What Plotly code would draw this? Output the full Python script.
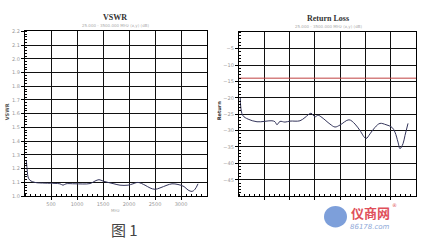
import plotly.graph_objects as go

W, H = 434, 246

# VSWR data
vswr_f = [25, 45, 58, 96, 192, 385, 577, 673, 731, 788, 962, 1250, 1346, 1423, 1500, 1596, 1711, 1827, 1980, 2077, 2173, 2308, 2404, 2500, 2596, 2731, 2827, 2942, 3058, 3135, 3212, 3269, 3327]
vswr_v = [1.26, 1.18, 1.14, 1.115, 1.10, 1.095, 1.093, 1.09, 1.08, 1.09, 1.09, 1.092, 1.11, 1.12, 1.11, 1.10, 1.09, 1.08, 1.08, 1.09, 1.10, 1.08, 1.06, 1.05, 1.06, 1.08, 1.09, 1.085, 1.07, 1.045, 1.035, 1.05, 1.09]

# Return loss data
rl_f = [25, 45, 80, 180, 356, 652, 711, 751, 810, 909, 1008, 1206, 1305, 1423, 1502, 1562, 1641, 1799, 1898, 1997, 2175, 2294, 2393, 2511, 2590, 2689, 2788, 2907, 3025, 3085, 3144, 3183, 3243, 3282, 3342]
rl_v = [-20.0, -24.0, -25.5, -26.5, -27.3, -27.0, -27.3, -28.2, -27.2, -27.4, -27.1, -27.0, -26.0, -24.7, -25.8, -25.3, -26.0, -28.0, -28.9, -28.3, -26.7, -28.0, -30.0, -32.4, -31.0, -29.0, -27.8, -28.2, -29.0, -30.5, -33.5, -35.5, -34.0, -31.5, -27.8]
rl_limit = -14

vswr_ticks = [1.0, 1.1, 1.2, 1.3, 1.4, 1.5, 1.6, 1.7, 1.8, 1.9, 2.0, 2.1, 2.2]
rl_ticks = [-45, -40, -35, -30, -25, -20, -15, -10, -5]
x_ticks = [500, 1000, 1500, 2000, 2500, 3000]

fig = go.Figure()
fig.add_trace(go.Scatter(x=vswr_f, y=vswr_v, mode="lines", line=dict(color="#33345a", width=1, shape="spline"), xaxis="x", yaxis="y", showlegend=False))
fig.add_trace(go.Scatter(x=rl_f, y=rl_v, mode="lines", line=dict(color="#33345a", width=1, shape="spline"), xaxis="x2", yaxis="y2", showlegend=False))
fig.add_trace(go.Scatter(x=[0, 3500], y=[rl_limit, rl_limit], mode="lines", line=dict(color="#c04040", width=1), xaxis="x2", yaxis="y2", showlegend=False))

ax_common = dict(showline=True, linecolor="black", linewidth=1.3, mirror=True, showgrid=True,
                 gridcolor="#111", gridwidth=1.3, zeroline=False,
                 tickfont=dict(size=5, color="#999", family="DejaVu Sans"),
                 ticks="outside", ticklen=3, tickcolor="black")

fig.update_layout(
    width=W, height=H, margin=dict(l=0, r=0, t=0, b=0),
    paper_bgcolor="white", plot_bgcolor="white",
    xaxis=dict(domain=[25/W, 207/W], range=[0, 3500], tickvals=x_ticks, anchor="y",
               minor=dict(dtick=100, ticks="inside", ticklen=2, tickcolor="black", showgrid=False), **ax_common),
    yaxis=dict(domain=[1-198/H, 1-29/H], range=[1.0, 2.2], tickvals=vswr_ticks, tickformat=".1f", anchor="x",
               minor=dict(dtick=0.02, ticks="inside", ticklen=2, tickcolor="black", showgrid=False), **ax_common),
    xaxis2=dict(domain=[239/W, 416/W], range=[0, 3500], tickvals=x_ticks, showticklabels=False, anchor="y2",
                minor=dict(dtick=100, ticks="inside", ticklen=2, tickcolor="black", showgrid=False), **ax_common),
    yaxis2=dict(domain=[1-198/H, 1-30/H], range=[-50, 0], tickvals=rl_ticks, anchor="x2",
                minor=dict(dtick=1, ticks="inside", ticklen=2, tickcolor="black", showgrid=False), **ax_common),
)

ann = [
    dict(x=115/W, y=1-15/H, text="<b>VSWR</b>", font=dict(size=8, family="Liberation Serif", color="#333")),
    dict(x=115/W, y=1-23/H, text="25.000 - 3500.000 MHz (x,y) (dB)", font=dict(size=4, family="DejaVu Sans", color="#aaa")),
    dict(x=328/W, y=1-16/H, text="<b>Return Loss</b>", font=dict(size=8, family="Liberation Serif", color="#333")),
    dict(x=328/W, y=1-24/H, text="25.000 - 3500.000 MHz (x,y) (dB)", font=dict(size=4, family="DejaVu Sans", color="#aaa")),
    dict(x=7/W, y=1-112/H, text="<b>VSWR</b>", textangle=-90, font=dict(size=5, family="DejaVu Sans", color="#555")),
    dict(x=219/W, y=1-110/H, text="<b>Return</b>", textangle=-90, font=dict(size=5, family="DejaVu Sans", color="#333")),
    dict(x=115/W, y=1-213/H, text="MHz", font=dict(size=4, family="DejaVu Sans", color="#aaa")),
    dict(x=124/W, y=1-232/H, text="图 1", font=dict(size=15, family="Noto Sans CJK SC", color="#444")),
    dict(x=370/W, y=1-215/H, text="<b>仪商网</b>", font=dict(size=13, family="Noto Sans CJK SC", color="#e0505a")),
    dict(x=394/W, y=1-207/H, text="®", font=dict(size=5, family="DejaVu Sans", color="#e0505a")),
    dict(x=370/W, y=1-230/H, text="<i>86178.com</i>", font=dict(size=7, family="DejaVu Sans", color="#8fa9d8")),
]
for a in ann:
    a.update(xref="paper", yref="paper", showarrow=False, xanchor="center", yanchor="middle")
fig.update_layout(annotations=ann)

fig.add_shape(type="circle", xref="paper", yref="paper",
              x0=324/W, x1=347/W, y0=1-230/H, y1=1-208/H,
              fillcolor="#6f95d6", line=dict(width=0), opacity=0.9)

fig.write_html("out.html")
